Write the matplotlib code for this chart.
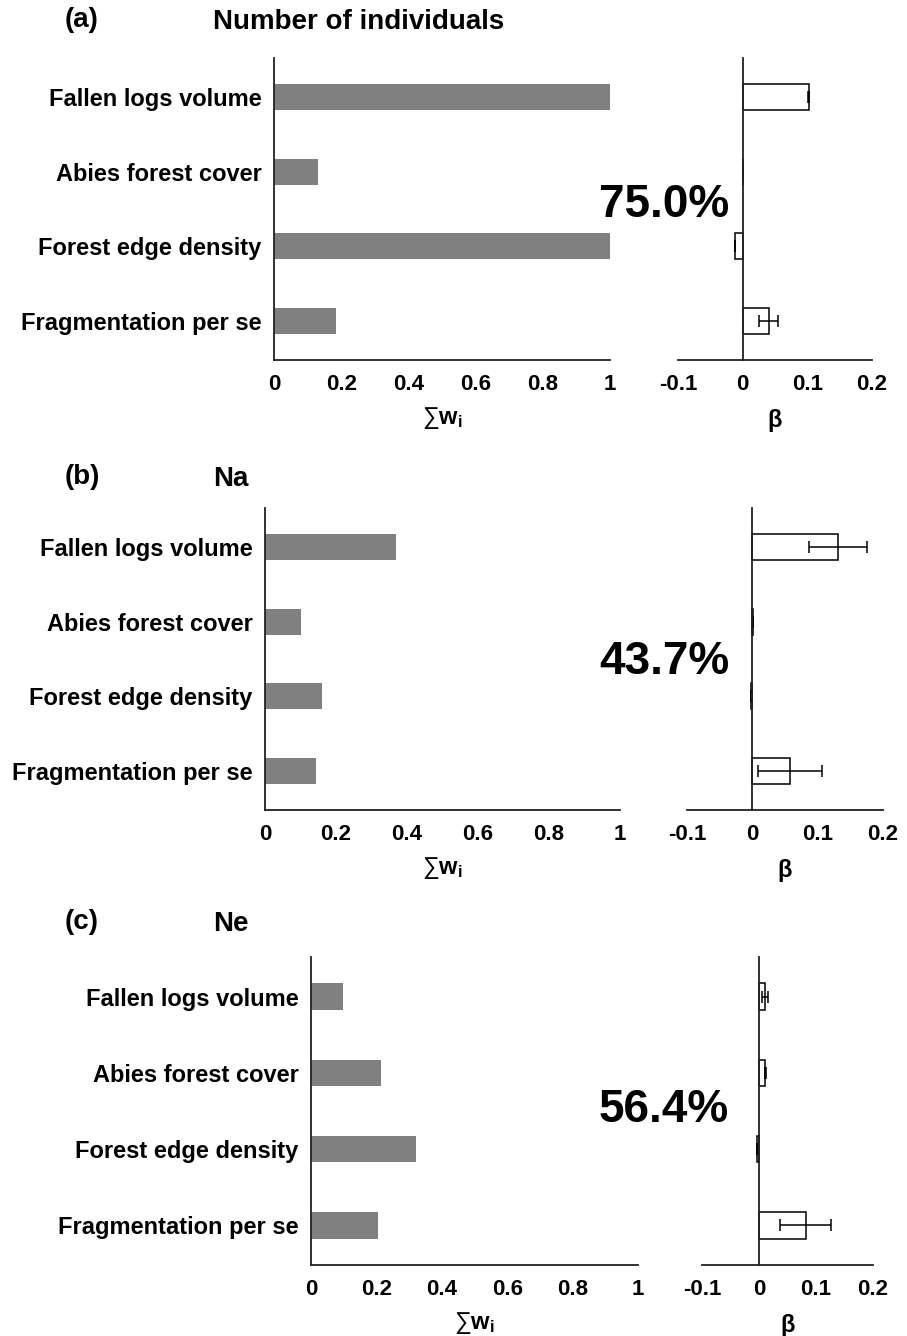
import matplotlib
matplotlib.use('Agg')
import matplotlib.pyplot as plt
import numpy as np

plt.rcParams['font.family'] = ['Liberation Sans', 'DejaVu Sans']
plt.rcParams['font.weight'] = 'bold'
plt.rcParams['mathtext.fontset'] = 'custom'
plt.rcParams['mathtext.rm'] = 'Liberation Sans:bold'
plt.rcParams['mathtext.bf'] = 'Liberation Sans:bold'
plt.rcParams['mathtext.it'] = 'Liberation Sans:bold'

# data
variables = ['Fallen logs volume', 'Abies forest cover', 'Forest edge density', 'Fragmentation per se']
panel_tags = ['(a)', '(b)', '(c)']
panel_titles = ['Number of individuals', 'Na', 'Ne']
percent = ['75.0%', '43.7%', '56.4%']

# summed Akaike weights
sum_w_a = [1.0, 0.13, 1.0, 0.185]
sum_w_b = [0.37, 0.10, 0.16, 0.145]
sum_w_c = [0.098, 0.214, 0.32, 0.205]

# model averaged coefficients and their errors
beta_a = [0.102, 0.0005, -0.012, 0.04]
beta_err_a = [0.001, 0.0, 0.0, 0.014]
beta_b = [0.131, 0.001, -0.002, 0.058]
beta_err_b = [0.044, 0.0, 0.0, 0.049]
beta_c = [0.010, 0.011, -0.004, 0.082]
beta_err_c = [0.005, 0.001, 0.0, 0.045]

sum_w = [sum_w_a, sum_w_b, sum_w_c]
betas = [beta_a, beta_b, beta_c]
beta_errs = [beta_err_a, beta_err_b, beta_err_c]

W, H = 907, 1336
fig = plt.figure(figsize=(W / 100, H / 100), dpi=100)

def box(x0, y0, x1, y1):
    # pixel box -> figure fraction
    return [x0 / W, 1 - y1 / H, (x1 - x0) / W, (y1 - y0) / H]

left_boxes = [box(274, 58, 610, 360), box(265, 508, 620, 810), box(311, 957, 638, 1265)]
right_boxes = [box(678, 58, 872, 360), box(687, 508, 883, 810), box(702, 957, 873, 1265)]
tag_y = [20, 477, 922]
pct_y = [205, 662, 1110]

spine_col = '#222222'
ypos = np.arange(len(variables))

for k in range(3):
    ax = fig.add_axes(left_boxes[k])
    ax.barh(ypos, sum_w[k], height=0.35, color='#808080')
    ax.set_xlim(0, 1)
    ax.set_ylim(3.52, -0.52)
    ax.set_xticks([0, 0.2, 0.4, 0.6, 0.8, 1])
    ax.set_xticklabels(['0', '0.2', '0.4', '0.6', '0.8', '1'])
    ax.set_yticks(ypos)
    ax.set_yticklabels(variables)
    ax.tick_params(axis='both', length=0, labelsize=16)
    ax.tick_params(axis='y', pad=9, labelsize=17)
    ax.tick_params(axis='x', pad=10)
    for s in ['top', 'right']:
        ax.spines[s].set_visible(False)
    for s in ['left', 'bottom']:
        ax.spines[s].set_linewidth(1.3)
        ax.spines[s].set_color(spine_col)
    ax.set_xlabel(r'∑$\mathbf{w_i}$', fontsize=17, labelpad=7)

    bx = fig.add_axes(right_boxes[k])
    bx.barh(ypos, betas[k], height=0.35, color='white', edgecolor='black', linewidth=1.1)
    bx.errorbar(betas[k], ypos, xerr=beta_errs[k], fmt='none', ecolor='black',
                elinewidth=1.1, capsize=4, capthick=1.1)
    bx.set_xlim(-0.1, 0.2)
    bx.set_ylim(3.52, -0.52)
    bx.set_xticks([-0.1, 0, 0.1, 0.2])
    bx.set_xticklabels(['-0.1', '0', '0.1', '0.2'])
    bx.set_yticks([])
    bx.tick_params(axis='x', length=0, labelsize=16, pad=10)
    bx.spines['left'].set_position(('data', 0))
    for s in ['top', 'right']:
        bx.spines[s].set_visible(False)
    for s in ['left', 'bottom']:
        bx.spines[s].set_linewidth(1.3)
        bx.spines[s].set_color(spine_col)
    bx.set_xlabel('β', fontsize=17, fontweight='bold', labelpad=10)

    fig.text(65 / W, 1 - tag_y[k] / H, panel_tags[k], fontsize=20, va='center', ha='left')
    fig.text(213 / W, 1 - (tag_y[k] + 2) / H, panel_titles[k], fontsize=20, va='center', ha='left')
    fig.text(664 / W, 1 - pct_y[k] / H, percent[k], fontsize=33, va='center', ha='center')

fig.savefig('out.png', dpi=100)
